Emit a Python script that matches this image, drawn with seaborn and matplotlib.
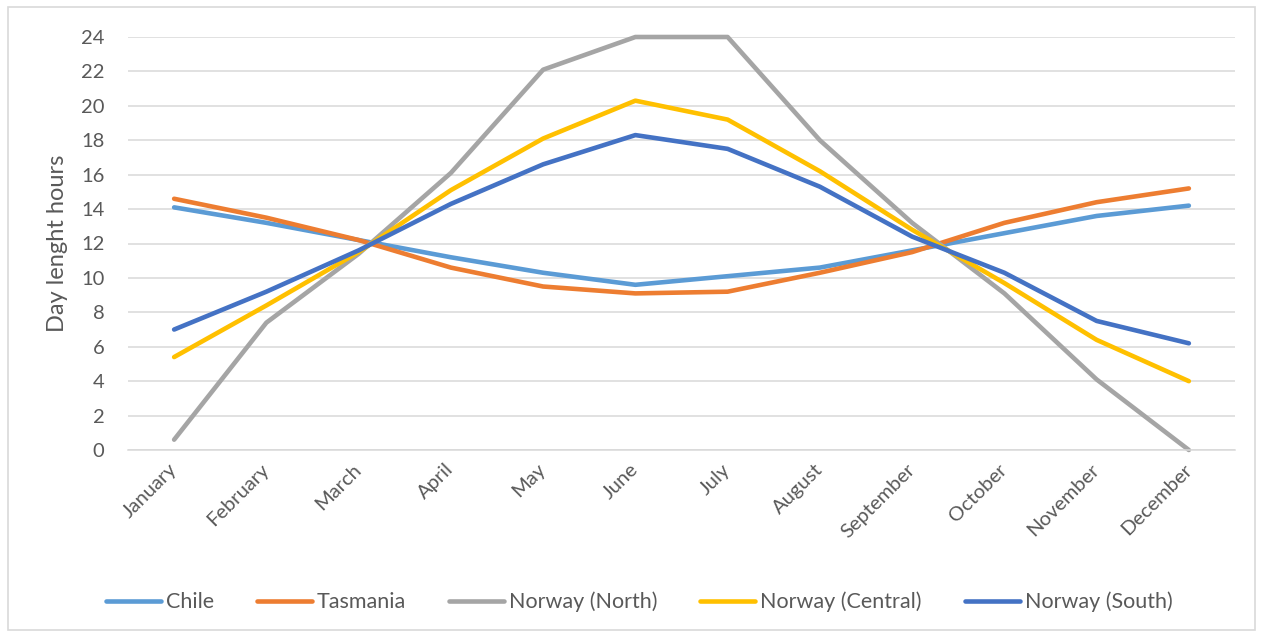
import matplotlib
matplotlib.use('Agg')
import matplotlib.pyplot as plt
import seaborn as sns
import pandas as pd
from matplotlib.patches import Rectangle

# --- data ---
months = ['January', 'February', 'March', 'April', 'May', 'June', 'July',
          'August', 'September', 'October', 'November', 'December']
chile = [14.1, 13.2, 12.2, 11.2, 10.3, 9.6, 10.1, 10.6, 11.6, 12.6, 13.6, 14.2]
tasmania = [14.6, 13.5, 12.2, 10.6, 9.5, 9.1, 9.2, 10.3, 11.5, 13.2, 14.4, 15.2]
norway_north = [0.6, 7.4, 11.4, 16.1, 22.1, 24.0, 24.0, 18.0, 13.2, 9.1, 4.1, 0.0]
norway_central = [5.4, 8.4, 11.5, 15.1, 18.1, 20.3, 19.2, 16.2, 12.8, 9.7, 6.4, 4.0]
norway_south = [7.0, 9.2, 11.6, 14.3, 16.6, 18.3, 17.5, 15.3, 12.4, 10.3, 7.5, 6.2]
regions = ['Chile', 'Tasmania', 'Norway (North)', 'Norway (Central)', 'Norway (South)']
colors = ['#5B9BD5', '#ED7D31', '#A5A5A5', '#FFC000', '#4472C4']

series = [chile, tasmania, norway_north, norway_central, norway_south]
df = pd.DataFrame({
    'Month': months * len(regions),
    'Hours': [v for s in series for v in s],
    'Region': [r for r in regions for _ in months],
})

sns.set_style('white')
plt.rcParams['font.family'] = ['Lato', 'DejaVu Sans']
txt = '#595959'
grid = '#D9D9D9'

fig = plt.figure(figsize=(12.63, 6.33), dpi=100)
fig.patches.append(Rectangle((0.006, 0.005), 0.988, 0.984, transform=fig.transFigure,
                             fill=False, edgecolor=grid, linewidth=1.2))
ax = fig.add_axes([128 / 1263, 1 - 450 / 633, (1235 - 128) / 1263, (450 - 37) / 633])

sns.lineplot(data=df, x='Month', y='Hours', hue='Region', hue_order=regions,
             palette=dict(zip(regions, colors)), linewidth=3.3, sort=False, ax=ax)
for ln in ax.lines:
    ln.set_solid_capstyle('round')
    ln.set_clip_on(False)

ax.set_xlim(-0.5, 11.5)
ax.set_ylim(0, 24)
ax.set_yticks(range(0, 25, 2))
ax.yaxis.grid(True, color=grid, linewidth=1.1)
ax.set_axisbelow(True)
for side in ['top', 'right', 'left']:
    ax.spines[side].set_visible(False)
ax.spines['bottom'].set_color(grid)
ax.spines['bottom'].set_linewidth(1.1)

ax.tick_params(axis='y', length=0, pad=17, labelsize=14.5, labelcolor=txt)
ax.tick_params(axis='x', length=0, pad=12, labelsize=14.5, labelcolor=txt)
plt.setp(ax.get_xticklabels(), rotation=45, ha='right', va='center', rotation_mode='anchor')
ax.set_xlabel('')
ax.set_ylabel('Day lenght hours', fontsize=17, color=txt, labelpad=9)

h, l = ax.get_legend_handles_labels()
ax.get_legend().remove()
leg = fig.legend(h, l, loc='center', bbox_to_anchor=(0.506, 0.049), ncol=5, frameon=False,
                 fontsize=15.5, handlelength=2.55, handletextpad=0.23, columnspacing=2.0)
for t in leg.get_texts():
    t.set_color(txt)
for lh in leg.get_lines():
    lh.set_linewidth(3.3)

fig.savefig('out.png', dpi=100)
